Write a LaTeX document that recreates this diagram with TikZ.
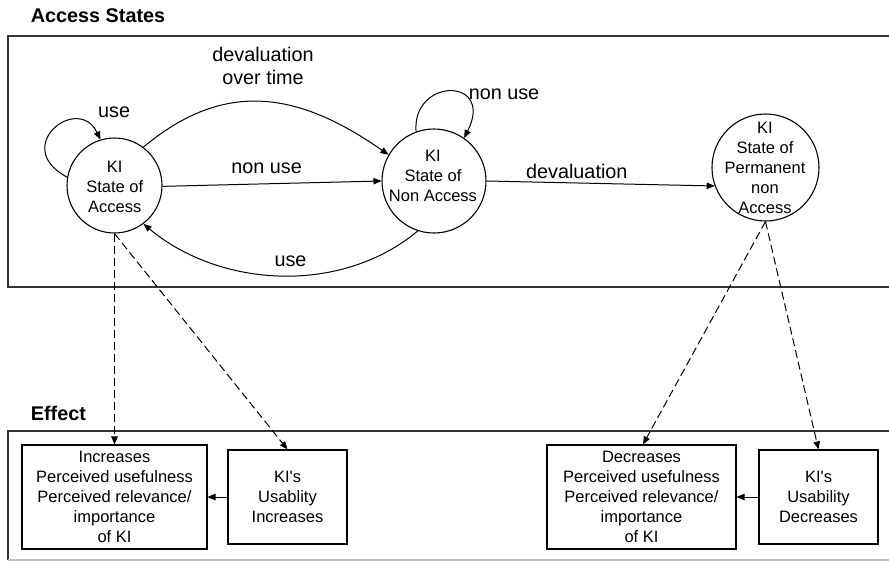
\documentclass[tikz,border=0pt]{standalone}
\usepackage{fontspec}
\setmainfont{Liberation Sans}
\usetikzlibrary{arrows.meta}

\begin{document}
\begin{tikzpicture}[x=1pt,y=-1pt,
  kistate/.style={circle, draw, line width=1.1pt, inner sep=0pt},
  statetext/.style={align=center, font=\fontsize{16.5}{20}\selectfont, inner sep=0pt},
  effectbox/.style={rectangle, draw, line width=1.1pt, align=center,
    font=\fontsize{16.5}{20}\selectfont, inner sep=0pt},
  edgelabel/.style={font=\fontsize{19.8}{23.5}\selectfont, inner sep=0pt, anchor=base},
  frametitle/.style={font=\bfseries\fontsize{19.8}{23.5}\selectfont, inner sep=0pt, anchor=base west},
  groupframe/.style={draw=black!80, line width=1.4pt},
  transition/.style={line width=1pt, -{Triangle[length=8pt,width=6.5pt]}},
  influence/.style={transition, dash pattern=on 8pt off 4pt},
]
\useasboundingbox (0,0) rectangle (889,563);

% ---- group frames (open to the right) ----
\node[frametitle] (accesstitle) at (30.7,22) {Access States};
\draw[groupframe] (889,36) -| (8,287) -- (889,287);
\node[frametitle] (effecttitle) at (30.7,420.7) {Effect};
\draw[groupframe] (889,431) -- (8,431) -- (8,560);
\draw[groupframe, draw=black!25] (8,560) -- (889,560);

% ---- access states ----
\node[kistate, minimum size=95pt]  (c1) at (114.5,185.5) {};
\node[kistate, minimum size=104pt] (c2) at (434,181) {};
\node[kistate, minimum size=107pt] (c3) at (765.5,167.5) {};
\node[statetext] (t1) at (114.7,187.2) {KI\\State of\\Access};
\node[statetext] (t2) at (433,176) {KI\\State of\\Non Access};
\node[statetext] (t3) at (765,167.5) {KI\\State of\\Permanent\\non\\Access};

% ---- effect boxes ----
\node[effectbox, minimum width=185pt, minimum height=104pt] (bA) at (114.5,497)
  {Increases\\Perceived usefulness\\Perceived relevance/\\importance\\of KI};
\node[effectbox, minimum width=119pt, minimum height=94pt] (bB) at (287.5,497)
  {KI\textquotesingle s\\Usablity\\Increases};
\node[effectbox, minimum width=189pt, minimum height=104pt] (bC) at (641.5,497)
  {Decreases\\Perceived usefulness\\Perceived relevance/\\importance\\of KI};
\node[effectbox, minimum width=119pt, minimum height=94pt] (bD) at (818.5,497)
  {KI\textquotesingle s\\Usability\\Decreases};

% ---- transitions between states ----
\draw[transition] (c1.170) .. controls (10,147) and (78,93) .. (c1.107);
\node[edgelabel] (luse1) at (114.2,117.3) {use};

\draw[transition] (c2.110) .. controls (412,77) and (495,77) .. (c2.55);
\node[edgelabel] (lnonuse2) at (504,99) {non use};

\draw[transition] (c1.53) .. controls (226,78) and (300,93) .. (c2.150);
\node[edgelabel, anchor=center, align=center] (ldevtime) at (263,65.9) {devaluation\\over time};

\draw[transition] (c1.359) -- (c2.180);
\node[edgelabel] (lnonuse) at (266.7,173.3) {non use};

\draw[transition] (c2.252) .. controls (341,295) and (220,288) .. (c1.307);
\node[edgelabel] (luse) at (290.5,266.7) {use};

\draw[transition] (c2.0) -- (c3.200);
\node[edgelabel] (ldev) at (576.8,178) {devaluation};

% ---- effects of the states ----
\draw[influence] (c1.south) -- (bA.north);
\draw[influence] (c1.south) -- (bB.north);
\draw[influence] (c3.south) -- ([xshift=1.5pt]bC.north);
\draw[influence] (c3.south) -- (bD.north);

\draw[transition] (bB.west) -- (bA.east);
\draw[transition] (bD.west) -- (bC.east);
\end{tikzpicture}
\end{document}
